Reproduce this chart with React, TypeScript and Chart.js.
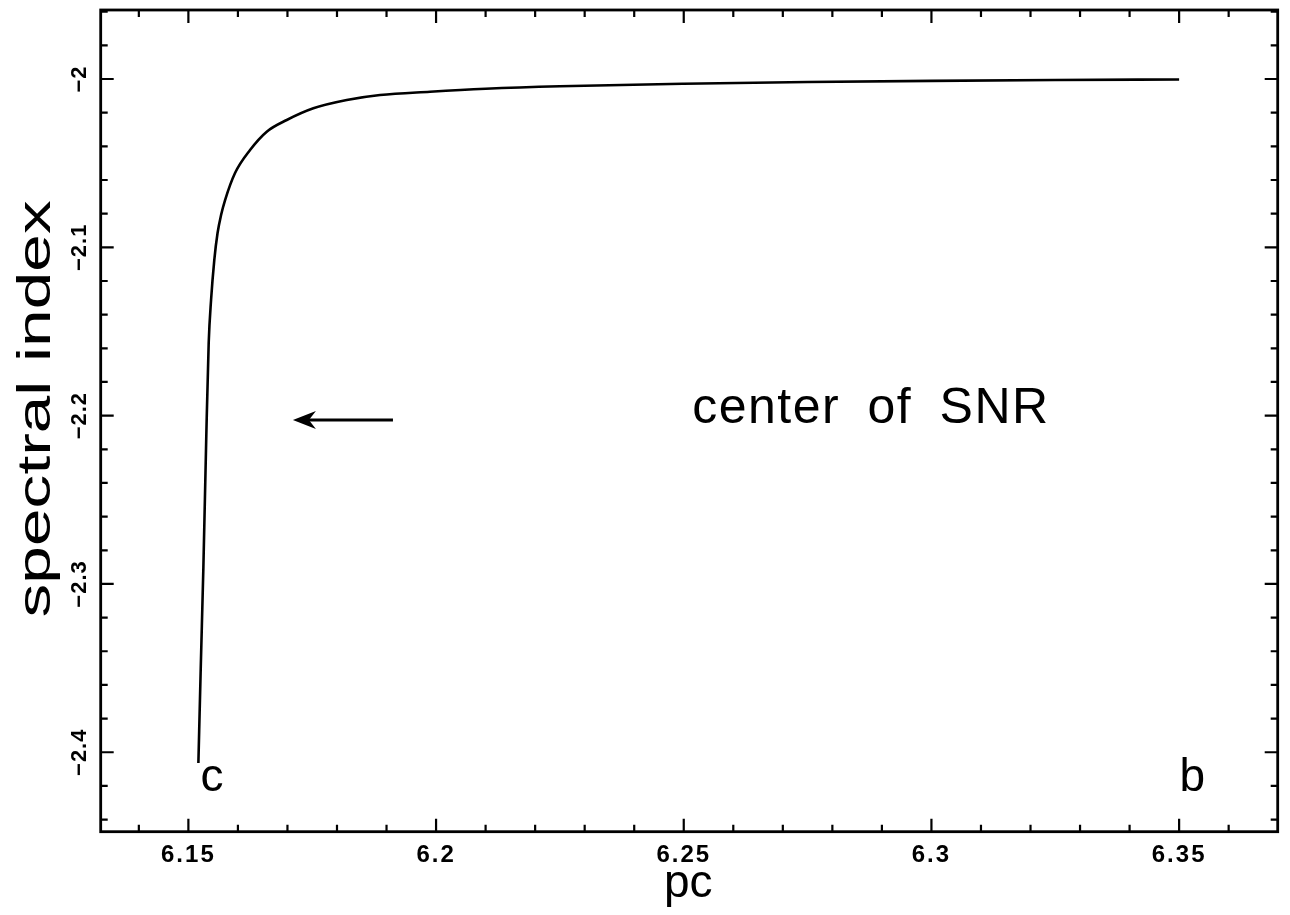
import React, { useEffect, useRef } from "react";
import { Chart, registerables } from "chart.js";

Chart.register(...registerables);

// Curve: distance (pc) vs spectral index
const pcValues = [
  6.15202, 6.1525, 6.15303, 6.15363, 6.1541, 6.15458, 6.15523, 6.15589, 6.1566, 6.15741,
  6.15942, 6.16245, 6.16582, 6.16986, 6.17523, 6.18197, 6.18869, 6.19878, 6.21, 6.225,
  6.25, 6.275, 6.3, 6.325, 6.35,
];
const indexValues = [
  -2.40642, -2.34938, -2.28996, -2.21034, -2.15686, -2.13131, -2.10755, -2.0915, -2.08081, -2.0719,
  -2.05585, -2.04219, -2.03131, -2.02436, -2.01741, -2.01248, -2.00951, -2.00755, -2.0058, -2.0043,
  -2.0028, -2.0018, -2.0011, -2.0006, -2.0003,
];

const xTickValues = [6.15, 6.2, 6.25, 6.3, 6.35];
const xTickLabels = ["6.15", "6.2", "6.25", "6.3", "6.35"];
const yTickValues = [-2.4, -2.3, -2.2, -2.1, -2.0];
const yTickLabels = ["\u22122.4", "\u22122.3", "\u22122.2", "\u22122.1", "\u22122"];

const X_MIN = 6.1323;
const X_MAX = 6.3699;
const Y_MIN = -2.4472;
const Y_MAX = -1.959;
const X_MINOR = 0.01;
const Y_MINOR = 0.02;

const xTitle = "pc";
const yTitle = "spectral index";
const noteText = "center of SNR";
const startLabel = "c";
const endLabel = "b";

const FONT = "'Liberation Sans', Arial, Helvetica, sans-serif";

const decorPlugin = {
  id: "decor",
  beforeDraw(chart: any) {
    const ctx = chart.ctx;
    ctx.save();
    ctx.fillStyle = "#fff";
    ctx.fillRect(0, 0, chart.width, chart.height);
    ctx.restore();
    ctx.letterSpacing = "2px";
  },
  beforeDatasetsDraw(chart: any) {
    chart.ctx.letterSpacing = "0px";
  },
  afterDraw(chart: any) {
    const { ctx, chartArea: a, scales } = chart;
    const xs = scales.x;
    const ys = scales.y;
    ctx.save();
    ctx.letterSpacing = "0px";
    ctx.strokeStyle = "#000";
    ctx.fillStyle = "#000";

    const isMajor = (v: number, arr: number[]) => arr.some((m) => Math.abs(m - v) < 1e-6);

    // inward ticks on all four sides
    ctx.lineWidth = 2.2;
    ctx.beginPath();
    for (let i = Math.ceil(X_MIN / X_MINOR - 1e-9); i * X_MINOR <= X_MAX + 1e-9; i++) {
      const v = i * X_MINOR;
      const len = isMajor(v, xTickValues) ? 13 : 7;
      const px = xs.getPixelForValue(v);
      ctx.moveTo(px, a.bottom);
      ctx.lineTo(px, a.bottom - len);
      ctx.moveTo(px, a.top);
      ctx.lineTo(px, a.top + len);
    }
    for (let i = Math.ceil(Y_MIN / Y_MINOR - 1e-9); i * Y_MINOR <= Y_MAX + 1e-9; i++) {
      const v = i * Y_MINOR;
      const len = isMajor(v, yTickValues) ? 13 : 7;
      const py = ys.getPixelForValue(v);
      ctx.moveTo(a.left, py);
      ctx.lineTo(a.left + len, py);
      ctx.moveTo(a.right, py);
      ctx.lineTo(a.right - len, py);
    }
    ctx.stroke();

    // frame
    ctx.lineWidth = 2.8;
    ctx.strokeRect(a.left, a.top, a.right - a.left, a.bottom - a.top);

    // rotated y tick labels
    ctx.save();
    ctx.font = `bold 22px ${FONT}`;
    ctx.letterSpacing = "1px";
    ctx.textAlign = "center";
    ctx.textBaseline = "alphabetic";
    yTickValues.forEach((v, i) => {
      const py = ys.getPixelForValue(v);
      ctx.save();
      ctx.translate(a.left - 15, py);
      ctx.rotate(-Math.PI / 2);
      ctx.fillText(yTickLabels[i], 0, 0);
      ctx.restore();
    });
    ctx.restore();

    // y title
    ctx.save();
    ctx.font = `46px ${FONT}`;
    ctx.translate(a.left - 51, (a.top + a.bottom) / 2 - 12);
    ctx.rotate(-Math.PI / 2);
    ctx.scale(1.47, 1);
    ctx.textAlign = "center";
    ctx.fillText(yTitle, 0, 0);
    ctx.restore();

    // x title
    ctx.font = `46px ${FONT}`;
    ctx.textAlign = "center";
    ctx.fillText(xTitle, (a.left + a.right) / 2 - 1, a.bottom + 65);

    // end labels
    ctx.textAlign = "left";
    ctx.font = `46px ${FONT}`;
    ctx.fillText(startLabel, xs.getPixelForValue(6.15246), ys.getPixelForValue(-2.4231));
    ctx.fillText(endLabel, xs.getPixelForValue(6.3501), ys.getPixelForValue(-2.4231));

    // note
    ctx.save();
    ctx.font = `50px ${FONT}`;
    ctx.letterSpacing = "1.5px";
    (ctx as any).wordSpacing = "12px";
    ctx.fillText(noteText, xs.getPixelForValue(6.2517), ys.getPixelForValue(-2.2044));
    ctx.restore();

    // arrow
    const tailX = xs.getPixelForValue(6.1913);
    const tipX = xs.getPixelForValue(6.1711);
    const ay = ys.getPixelForValue(-2.2026);
    ctx.lineWidth = 3;
    ctx.beginPath();
    ctx.moveTo(tailX, ay);
    ctx.lineTo(tipX + 14, ay);
    ctx.stroke();
    ctx.beginPath();
    ctx.moveTo(tipX, ay);
    ctx.lineTo(tipX + 23, ay - 9);
    ctx.lineTo(tipX + 16, ay);
    ctx.lineTo(tipX + 23, ay + 9);
    ctx.closePath();
    ctx.fill();

    ctx.restore();
  },
};

export default function App() {
  const ref = useRef<HTMLCanvasElement | null>(null);

  useEffect(() => {
    if (!ref.current) return;
    const points = pcValues.map((x, i) => ({ x, y: indexValues[i] }));
    const chart = new Chart(ref.current, {
      type: "line",
      data: {
        datasets: [
          {
            data: points,
            borderColor: "#000",
            borderWidth: 2.6,
            pointRadius: 0,
            fill: false,
            cubicInterpolationMode: "monotone",
          },
        ],
      },
      options: {
        animation: false,
        responsive: true,
        maintainAspectRatio: false,
        devicePixelRatio: 1,
        layout: { padding: { left: 0, right: 12.3, top: 10, bottom: 0 } },
        plugins: { legend: { display: false }, tooltip: { enabled: false } },
        scales: {
          x: {
            type: "linear",
            min: X_MIN,
            max: X_MAX,
            afterBuildTicks: (scale: any) => {
              scale.ticks = xTickValues.map((v) => ({ value: v }));
            },
            afterFit: (scale: any) => {
              scale.height = 83.3;
            },
            grid: { display: false, drawTicks: false },
            border: { display: false },
            ticks: {
              padding: 9,
              color: "#000",
              font: { size: 24, family: FONT, weight: "bold" },
              maxRotation: 0,
              minRotation: 0,
              autoSkip: false,
              callback: (_v: any, i: number) => xTickLabels[i],
            },
          },
          y: {
            type: "linear",
            min: Y_MIN,
            max: Y_MAX,
            afterBuildTicks: (scale: any) => {
              scale.ticks = yTickValues.map((v) => ({ value: v }));
            },
            afterFit: (scale: any) => {
              scale.width = 100.7;
            },
            grid: { display: false, drawTicks: false },
            border: { display: false },
            ticks: { display: false },
          },
        },
      },
      plugins: [decorPlugin],
    });
    return () => chart.destroy();
  }, []);

  return (
    <div style={{ position: "fixed", left: 0, top: 0, width: 1290, height: 915, background: "#fff" }}>
      <canvas ref={ref} />
    </div>
  );
}
